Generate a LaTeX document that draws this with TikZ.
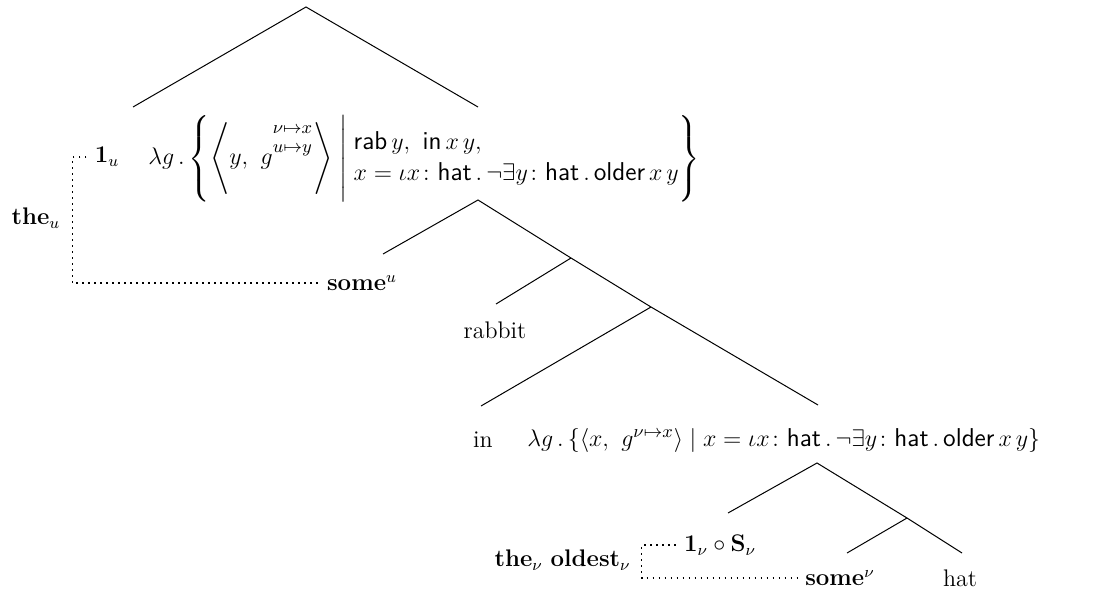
\documentclass[tikz,border=0pt,12pt]{standalone}
\usepackage{amsmath}
\usetikzlibrary{positioning}

\begin{document}
\begin{tikzpicture}[
    x=0.5pt, y=-0.5pt,
    branch/.style={draw, line width=0.5pt},
    leaf/.style={inner sep=1pt},
    denot/.style={inner sep=1pt, font=\fontsize{12.9}{15.5}\selectfont},
    link/.style={draw, dash pattern=on 0.8pt off 2.2pt, line width=0.8pt, shorten <=3pt, shorten >=3pt}
]
\useasboundingbox (0,0) rectangle (1112,594);

% branching points
\coordinate (root) at (306,7);
\coordinate (rootl) at (133,107);
\coordinate (rootr) at (478,107);
\coordinate (dp) at (478,200);
\coordinate (dpl) at (383,254);
\coordinate (np) at (571,258);
\coordinate (npl) at (496,304);
\coordinate (pp) at (651,307);
\coordinate (ppl) at (481,406);
\coordinate (ppr) at (818,405);
\coordinate (dpin) at (817,463);
\coordinate (dpinl) at (728,513);
\coordinate (npin) at (907,518);
\coordinate (npinl) at (847,553);
\coordinate (npinr) at (962,553);

% labels
\node [leaf] (oneu) at (107,157) {$\mathbf{1}_u$};
\node [denot, anchor=west] (denu) at (146,157) {$\lambda g\,.\left\{\left\langle y,\ g^{\begin{array}[b]{@{}c@{}}\scriptstyle\nu\mapsto x\\[-6pt]\scriptstyle u\mapsto y\end{array}}\right\rangle\;\middle|\;\begin{array}{@{}l@{}}\textsf{rab}\,y,\ \textsf{in}\,x\,y,\\ x=\iota x\colon\textsf{hat}\,.\,\neg\exists y\colon\textsf{hat}\,.\,\textsf{older}\,x\,y\end{array}\right\}$};
\node [leaf] (theu) at (36,218) {$\textbf{the}_u$};
\node [leaf] (someu) at (362,283) {$\textbf{some}^u$};
\node [leaf] (rabbit) at (495,330) {rabbit};
\node [leaf] (in) at (483,440) {in};
\node [denot, anchor=west] (dennu) at (525,440) {$\lambda g\,.\,\{\langle x,\ g^{\nu\mapsto x}\rangle\mid x=\iota x\colon\textsf{hat}\,.\,\neg\exists y\colon\textsf{hat}\,.\,\textsf{older}\,x\,y\}$};
\node [leaf] (onenu) at (720,545) {$\mathbf{1}_\nu\circ\mathbf{S}_\nu$};
\node [leaf, anchor=east] (thenu) at (633,560) {$\textbf{the}_\nu\ \textbf{oldest}_\nu$};
\node [leaf] (somenu) at (840,578) {$\textbf{some}^\nu$};
\node [leaf] (hat) at (960,578) {hat};

% tree
\path [branch] (rootl) -- (root) -- (rootr);
\path [branch] (dpl) -- (dp) -- (np) -- (pp) -- (ppr);
\path [branch] (np) -- (npl);
\path [branch] (pp) -- (ppl);
\path [branch] (dpinl) -- (dpin) -- (npin) -- (npinr);
\path [branch] (npin) -- (npinl);

% split determiners
\path [link] (oneu.west) -- ++(-20,0) |- (someu.west);
\path [link] (onenu.west) -- ++(-40,0) |- (somenu.west);

\end{tikzpicture}
\end{document}
